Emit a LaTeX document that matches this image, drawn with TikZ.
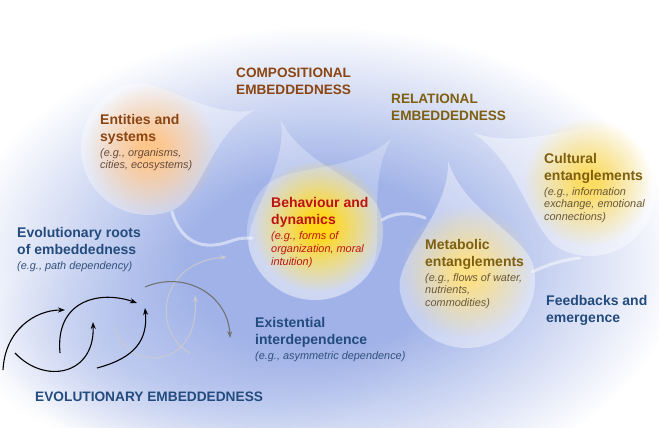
\documentclass[tikz,border=0pt]{standalone}
\usepackage{fontspec}
\setmainfont{Liberation Sans}
\usetikzlibrary{arrows.meta,positioning,fadings}

\definecolor{compbrown}{RGB}{139,69,19}
\definecolor{relgold}{RGB}{125,95,15}
\definecolor{behred}{RGB}{190,18,18}
\definecolor{evoblue}{RGB}{35,75,125}
\definecolor{exbrown}{RGB}{100,75,58}
\definecolor{exgold}{RGB}{105,88,55}
\definecolor{exblue}{RGB}{50,80,125}
\definecolor{bgblue}{RGB}{160,178,232}

% soft edges
\pgfdeclareradialshading{plateaushade}{\pgfpointorigin}{color(0bp)=(white); color(9bp)=(white); color(25bp)=(black); color(50bp)=(black)}
\pgfdeclarefading{plateau}{\pgfuseshading{plateaushade}}
\pgfdeclareradialshading{glowshade}{\pgfpointorigin}{color(0bp)=(white); color(4bp)=(white); color(25bp)=(black); color(50bp)=(black)}
\pgfdeclarefading{glow}{\pgfuseshading{glowshade}}

% drop: centre x, centre y, radius, angle of tip, length to tip, fill
\newcommand\drop[6]{%
  \begin{scope}[shift={(#1,#2)},rotate=#4]
    \fill[#6] (#5,0) .. controls ({0.55*#5},{0.12*#3}) and ({0.5*#3},#3) .. (0,#3)
      arc[start angle=90,end angle=270,radius=#3]
      .. controls ({0.5*#3},{-#3}) and ({0.55*#5},{-0.12*#3}) .. cycle;
  \end{scope}}

\begin{document}
\begin{tikzpicture}[x=1pt,y=-1pt,
    head/.style={anchor=north west, inner sep=0pt, align=left, text depth=3.5pt,
      font=\fontsize{14}{16.9}\selectfont\bfseries},
    caps/.style={head, font=\fontsize{13.6}{16.7}\selectfont\bfseries},
    ex/.style={anchor=north west, inner sep=0pt, align=left,
      font=\fontsize{10.9}{12.8}\selectfont\itshape},
    evo/.style={-{Stealth[length=7pt,width=5pt]}, line width=1.1pt},
    ghost/.style={evo, gray!40, opacity=0.8},
    vein/.style={white, line width=3pt, opacity=0.5, line cap=round}
]
\useasboundingbox (0,0) rectangle (659,428);
\fill[white] (0,0) rectangle (659,428);

% blue ground
\fill[bgblue, path fading=plateau] (320,262) ellipse[x radius=360, y radius=235];
\fill[bgblue, opacity=0.4, path fading=plateau] (190,345) ellipse[x radius=220, y radius=105];

% white veins
\draw[vein] (172,212) .. controls (180,240) and (200,250) .. (225,243) .. controls (240,238) .. (252,238);
\draw[vein] (382,220) .. controls (395,212) and (410,212) .. (425,218);
\draw[vein] (532,272) .. controls (545,266) and (560,260) .. (580,258);

% drops
\drop{148}{148}{67}{19.6}{113}{white, opacity=0.35}
\drop{315}{232}{68}{107}{117}{white, opacity=0.3}
\drop{315}{232}{68}{50.7}{121}{white, opacity=0.25}
\drop{467}{280}{68}{99}{120}{white, opacity=0.4}
\drop{590}{190}{66}{154}{130}{white, opacity=0.4}
\fill[orange!45!white, path fading=glow] (150,150) circle[radius=66];
\fill[white, opacity=0.3, path fading=plateau] (315,232) circle[radius=70];
\fill[orange!35!yellow!90!white, path fading=glow] (318,226) circle[radius=66];
\fill[yellow!55!orange!45!white, path fading=glow] (467,272) circle[radius=66];
\fill[yellow!60!orange!60!white, path fading=glow] (588,182) circle[radius=64];

% evolutionary arrows
\draw[ghost] (115,327) .. controls (125,372) and (200,372) .. (195,295);
\draw[ghost] (190,353) .. controls (150,330) and (160,262) .. (227,257);
\draw[evo, black!55] (145,287) .. controls (185,270) and (228,295) .. (230,338);
\draw[evo] (3,370) .. controls (5,330) and (35,310) .. (65,310);
\draw[evo] (15,353) .. controls (45,385) and (95,375) .. (93,322);
\draw[evo] (60,353) .. controls (55,300) and (100,290) .. (137,303);
\draw[evo] (97,368) .. controls (135,358) and (148,340) .. (145,308);

% labels
\node[caps, compbrown] (comp) at (236,68) {COMPOSITIONAL\\EMBEDDEDNESS};
\node[caps, relgold] (rel) at (391,94) {RELATIONAL\\EMBEDDEDNESS};

\node[head, compbrown] (ent) at (100,114) {Entities and\\systems};
\node[ex, exbrown, below=3pt of ent.south west, anchor=north west] (entx) {(e.g., organisms,\\cities, ecosystems)};

\node[head, behred] (beh) at (271,197.5) {Behaviour and\\dynamics};
\node[ex, behred, below=3pt of beh.south west, anchor=north west] (behx) {(e.g., forms of\\organization, moral\\intuition)};

\node[head, relgold] (cult) at (544,153) {Cultural\\entanglements};
\node[ex, exgold, below=3pt of cult.south west, anchor=north west] (cultx) {(e.g., information\\exchange, emotional\\connections)};

\node[head, relgold] (meta) at (425,239) {Metabolic\\entanglements};
\node[ex, exgold, below=3pt of meta.south west, anchor=north west] (metax) {(e.g., flows of water,\\nutrients,\\commodities)};

\node[head, evoblue] (feed) at (546,295) {Feedbacks and\\emergence};

\node[head, evoblue] (exist) at (255,317) {Existential\\interdependence};
\node[ex, exblue, below=3pt of exist.south west, anchor=north west] (existx) {(e.g., asymmetric dependence)};

\node[head, evoblue] (roots) at (17,227) {Evolutionary roots\\of embeddedness};
\node[ex, exblue, below=3pt of roots.south west, anchor=north west] (rootsx) {(e.g., path dependency)};

\node[head, evoblue, font=\fontsize{13.7}{16}\selectfont\bfseries] (evol) at (35,392) {EVOLUTIONARY EMBEDDEDNESS};
\end{tikzpicture}
\end{document}
